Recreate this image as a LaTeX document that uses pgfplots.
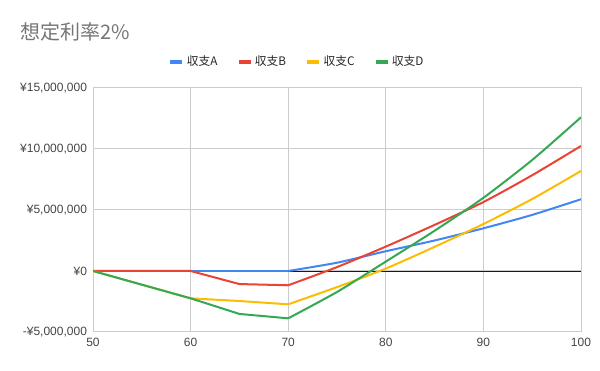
\documentclass[border=0pt]{standalone}
\usepackage{pgfplots}
\pgfplotsset{compat=1.18}
\usepackage{fontspec}
\setmainfont{Liberation Sans}
\newfontfamily\cjk{Noto Sans CJK JP}
\definecolor{cA}{HTML}{4285F4}
\definecolor{cB}{HTML}{EA4335}
\definecolor{cC}{HTML}{FBBC04}
\definecolor{cD}{HTML}{34A853}
\definecolor{gridc}{HTML}{CCCCCC}
\definecolor{tickc}{HTML}{444444}
\definecolor{titlec}{HTML}{757575}
\begin{document}
\begin{tikzpicture}
\path[use as bounding box] (0,0) rectangle (450pt,278.25pt);
\node[anchor=west, inner sep=0pt, text=titlec, font=\cjk\fontsize{15pt}{15pt}\selectfont] at (15pt,254.25pt) {想定利率2\%};
\begin{axis}[
  at={(69.75pt,29.25pt)}, anchor=south west,
  scale only axis, width=366pt, height=183pt,
  xmin=50, xmax=100, ymin=-5, ymax=15,
  xtick={50,60,70,80,90,100},
  ytick={-5,0,5,10,15},
  yticklabels={{-¥5,000,000},{¥0},{¥5,000,000},{¥10,000,000},{¥15,000,000}},
  xticklabels={50,60,70,80,90,100},
  major tick length=0pt,
  grid=major,
  grid style={gridc, line width=0.75pt},
  axis line style={gridc, line width=0.75pt},
  tick label style={text=tickc, font=\fontsize{9pt}{10pt}\selectfont},
  yticklabel style={xshift=-1pt},
  xticklabel style={yshift=-1pt},
  legend columns=4,
  legend style={at={(0.419,1.107)}, anchor=center, draw=none, fill=none,
    font=\cjk\fontsize{8.8pt}{9pt}\selectfont, text=black!85,
    /tikz/every even column/.append style={column sep=12.5pt}},
  legend image code/.code={\draw[line width=2.6pt] (0pt,0pt) -- (9pt,0pt);},
]
\addplot[black!90, line width=0.6pt, forget plot] coordinates {(50,0) (100,0)};
\addplot[cA, line width=1.5pt] coordinates {(50,0) (60,0) (65,0) (70,0)};
\addlegendentry{収支A}
\addplot[cB, line width=1.5pt] coordinates {(50,0) (60,0) (65,-1.07) (70,-1.17)};
\addlegendentry{収支B}
\addplot[cC, line width=1.5pt] coordinates {(50,0) (60,-2.24) (65,-2.46) (70,-2.73)};
\addlegendentry{収支C}
\addplot[cD, line width=1.5pt] coordinates {(50,0) (60,-2.24) (65,-3.52) (70,-3.88)};
\addlegendentry{収支D}
\addplot[cA, line width=1.5pt, smooth, tension=0.4, forget plot] coordinates {(70,0) (75,0.68) (80,1.62) (85,2.5) (90,3.5) (95,4.6) (100,5.88)};
\addplot[cB, line width=1.5pt, smooth, tension=0.4, forget plot] coordinates {(70,-1.17) (75,0.32) (80,2.0) (85,3.78) (90,5.65) (95,7.85) (100,10.25)};
\addplot[cC, line width=1.5pt, smooth, tension=0.4, forget plot] coordinates {(70,-2.73) (75,-1.32) (80,0.2) (85,1.98) (90,3.85) (95,5.9) (100,8.2)};
\addplot[cD, line width=1.5pt, smooth, tension=0.4, forget plot] coordinates {(70,-3.88) (75,-1.72) (80,0.77) (85,3.3) (90,6.0) (95,9.1) (100,12.6)};
\end{axis}
\end{tikzpicture}
\end{document}
